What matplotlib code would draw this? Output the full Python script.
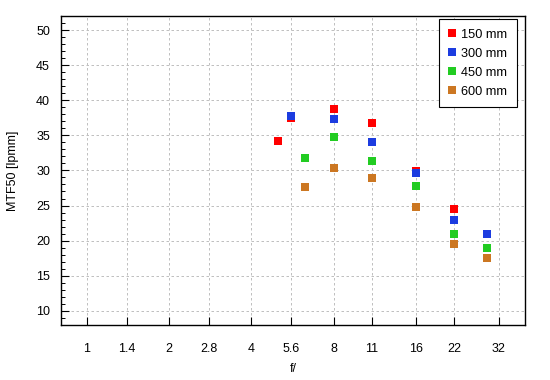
import matplotlib
matplotlib.use("Agg")
import matplotlib.pyplot as plt
from matplotlib.ticker import FixedLocator, NullFormatter, MultipleLocator

plt.rcParams['font.family'] = ['Liberation Sans', 'DejaVu Sans']

# f-numbers and MTF50 readings per focal length
f_150 = [5.0, 5.6, 8, 11, 16, 22]
mtf_150 = [34.2, 37.5, 38.8, 36.8, 29.9, 24.5]

f_300 = [5.6, 8, 11, 16, 22, 29]
mtf_300 = [37.7, 37.3, 34.1, 29.7, 23.0, 21.0]

f_450 = [6.3, 8, 11, 16, 22, 29]
mtf_450 = [31.8, 34.8, 31.4, 27.8, 21.0, 19.0]

f_600 = [6.3, 8, 11, 16, 22, 29]
mtf_600 = [27.7, 30.4, 28.9, 24.8, 19.5, 17.5]

series_labels = ["150 mm", "300 mm", "450 mm", "600 mm"]
series_colors = ["#ff0000", "#1c3ce0", "#22cc22", "#cc7722"]

x_ticks = [1, 1.4, 2, 2.8, 4, 5.6, 8, 11, 16, 22, 32]
x_tick_labels = ["1", "1.4", "2", "2.8", "4", "5.6", "8", "11", "16", "22", "32"]

fig = plt.figure(figsize=(5.5, 3.8), dpi=100)
ax = fig.add_axes([0.111, 0.145, 0.8436, 0.813])

data = [(f_150, mtf_150), (f_300, mtf_300), (f_450, mtf_450), (f_600, mtf_600)]
for (fx, my), lab, col in zip(data, series_labels, series_colors):
    ax.plot(fx, my, linestyle="none", marker="s", markersize=6,
            markeredgewidth=0, color=col, label=lab)

ax.set_xscale("log", base=2)
ax.set_xlim(0.807, 39.9)
ax.set_ylim(8, 52)
ax.xaxis.set_major_locator(FixedLocator(x_ticks))
ax.set_xticklabels(x_tick_labels)
ax.xaxis.set_minor_locator(FixedLocator([]))
ax.xaxis.set_minor_formatter(NullFormatter())
ax.yaxis.set_major_locator(MultipleLocator(5))
ax.yaxis.set_minor_locator(MultipleLocator(1))

ax.grid(True, which="major", color="#c0c0c0", linestyle=(0, (2.5, 2.5)), linewidth=0.72)
ax.tick_params(which="both", direction="in", top=False, right=False,
               labelsize=9, colors="black")
ax.tick_params(axis="x", pad=13)
ax.tick_params(axis="y", pad=8)
ax.tick_params(which="major", length=5.5, width=0.8)
ax.tick_params(which="minor", length=3, width=0.7)
for s in ax.spines.values():
    s.set_linewidth(1.0)

ax.set_xlabel("f/", fontsize=9, labelpad=6)
ax.set_ylabel("MTF50 [lpmm]", fontsize=9, labelpad=12)

leg = ax.legend(loc="upper right", fontsize=9.2, frameon=True, fancybox=False,
                edgecolor="black", framealpha=1, handlelength=0.6,
                handletextpad=0.4, borderpad=0.75, labelspacing=0.55,
                borderaxespad=0, markerscale=1.0,
                bbox_to_anchor=(0.983, 0.99))
leg.get_frame().set_linewidth(0.8)

fig.savefig("out.png", dpi=100)
